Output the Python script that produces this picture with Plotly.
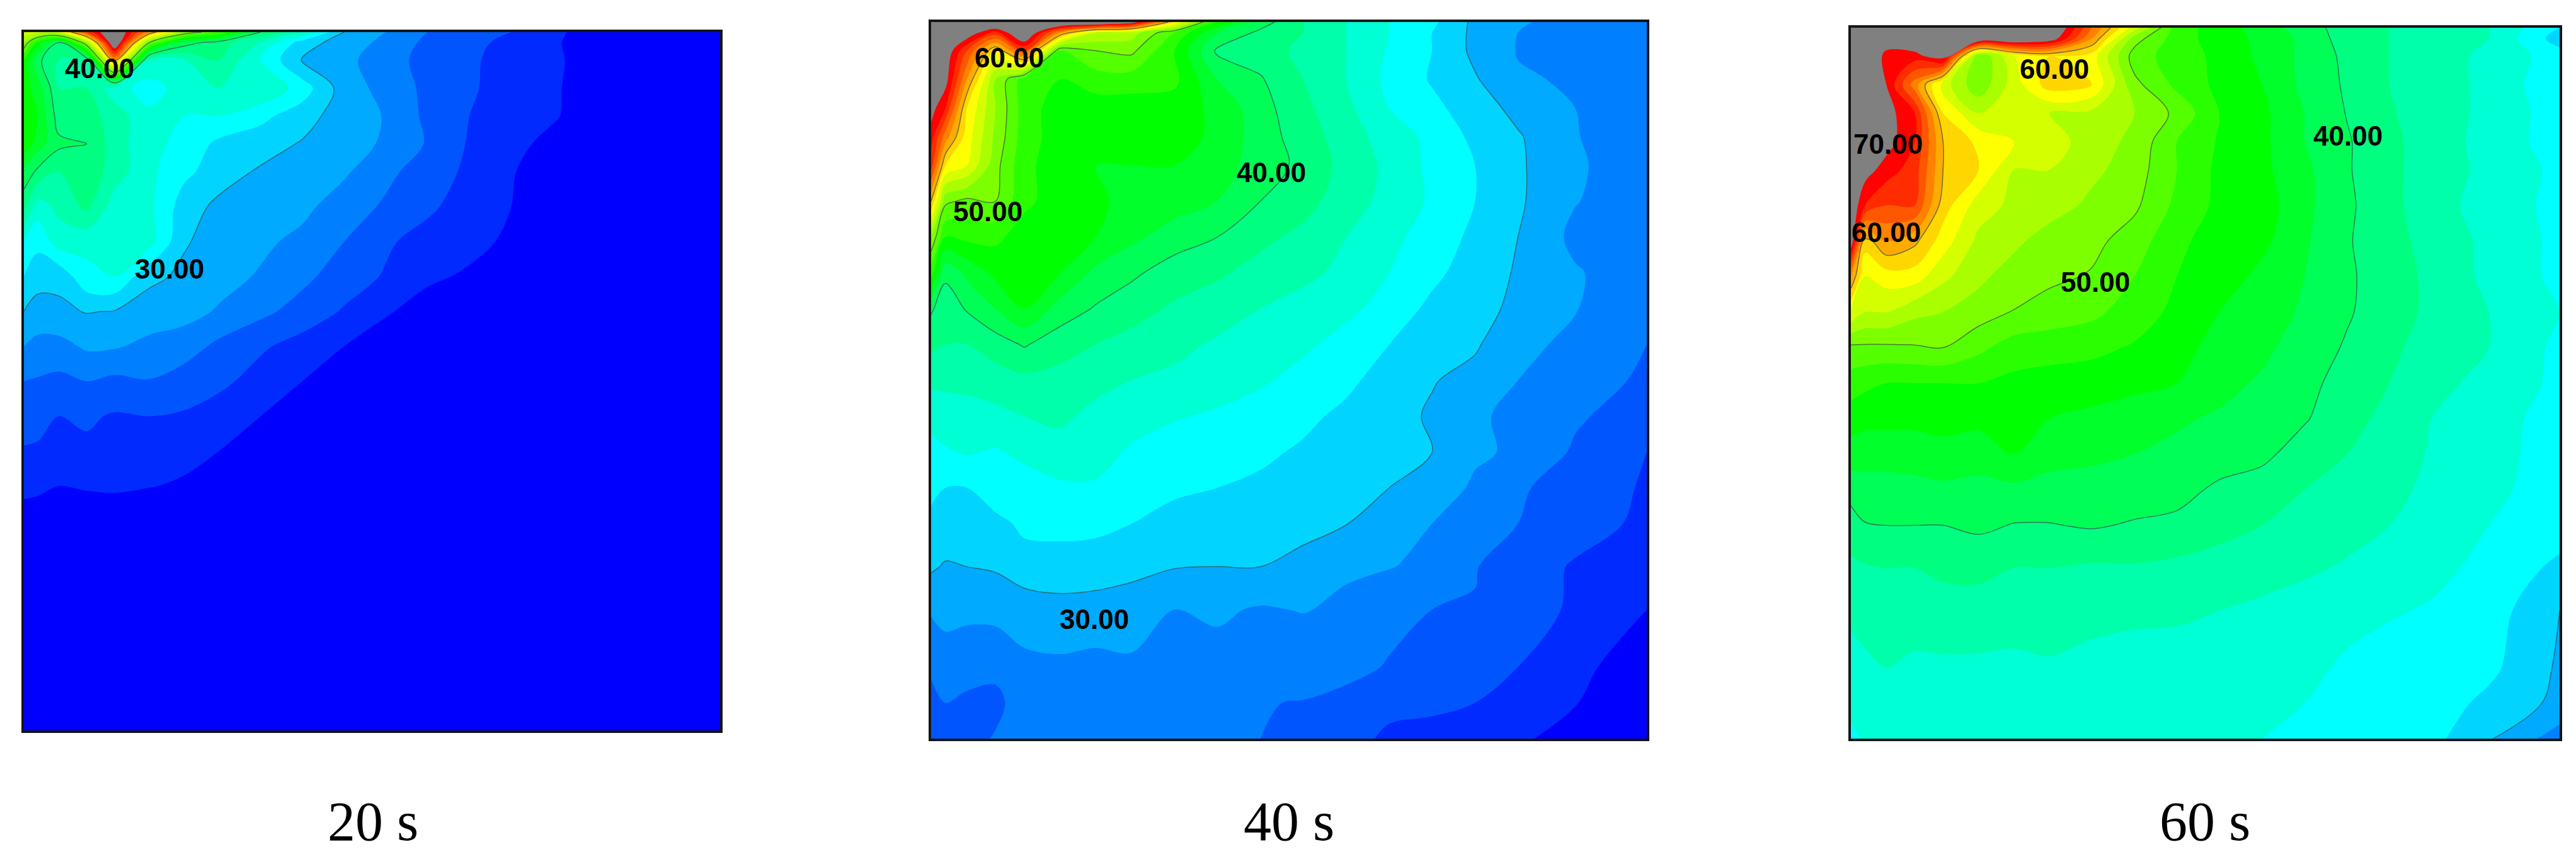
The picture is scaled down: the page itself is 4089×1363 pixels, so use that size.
import plotly.graph_objects as go

# grid nodes, percent of panel width / height (y measured from the top edge)
x_nodes = [0, 2, 5, 9, 13, 18, 23, 28, 34, 40, 46, 52, 58, 64, 70, 76, 82, 90, 100]
y_nodes = [0, 1.5, 4, 8, 12, 16, 20, 25, 30, 35, 40, 45, 50, 55, 60, 65, 70, 76, 82, 90, 95, 100]

# temperature, one row per y node
temp_20s = [
    [55, 55, 55, 66, 74, 62, 52, 48, 40, 36, 30, 28, 26, 25, 24, 22.5, 21, 20, 20],
    [52, 45, 40, 52, 74, 50, 41, 39, 36, 31, 29, 27.5, 25.5, 24.5, 23.5, 22.4, 20.5, 20, 20],
    [46, 40.5, 38, 38, 62, 36, 36, 38, 34, 29.8, 28.5, 27, 25.2, 24.2, 23.5, 22.6, 20.5, 20, 20],
    [45, 43, 38, 38, 35, 33, 35, 36, 36, 33, 29, 27.3, 25.5, 24.3, 23, 22.4, 20.5, 20, 20],
    [46, 44, 39, 39, 37, 34.5, 34, 34, 32.5, 31, 28.8, 27.9, 25.5, 24, 23.2, 22.3, 20.5, 20, 20],
    [45.5, 43, 40.5, 40, 37, 34.5, 33.5, 31.5, 31, 29.8, 28.6, 27.8, 25.8, 23.8, 22.8, 21.2, 20, 20, 20],
    [41.5, 39.5, 38, 39.5, 37, 34.5, 32.5, 31, 29.7, 29, 28.3, 26.5, 25, 23.6, 22.2, 20.5, 20, 20, 20],
    [38.5, 35, 36.5, 38.5, 35, 34.5, 31, 29.5, 29, 28.5, 27, 25.7, 24.4, 23, 22, 20, 20, 20, 20],
    [34, 32.5, 35, 34.5, 34.5, 34.8, 30.2, 29.2, 28.4, 27.5, 26, 24.3, 23.2, 22.8, 21.5, 20, 20, 20, 20],
    [32, 31, 30.5, 33.5, 34, 30.5, 29.6, 28.7, 27.8, 26.5, 25, 23.8, 22.5, 21.6, 20.5, 20, 20, 20, 20],
    [30, 29, 29.6, 30.1, 29.9, 29, 28.7, 27.8, 26.5, 25.2, 23.8, 22.3, 20.8, 20, 20, 20, 20, 20, 20],
    [28, 27.5, 27.3, 28.3, 28.2, 27.5, 27, 25.5, 24.3, 23.2, 22, 20.5, 20, 20, 20, 20, 20, 20, 20],
    [26, 25.8, 25.5, 26, 25.5, 25.9, 25, 24.5, 23.2, 22, 20.5, 20, 20, 20, 20, 20, 20, 20, 20],
    [25, 24.5, 24, 24.3, 23.8, 24, 23.8, 23, 22, 20.5, 20, 20, 20, 20, 20, 20, 20, 20, 20],
    [23.8, 23.8, 23.2, 23.6, 23.7, 23, 22.7, 22, 20.5, 20, 20, 20, 20, 20, 20, 20, 20, 20, 20],
    [22.6, 22.4, 22, 22.3, 22.5, 22.1, 21.7, 20.5, 20, 20, 20, 20, 20, 20, 20, 20, 20, 20, 20],
    [21, 21, 20.5, 20, 20, 20, 20, 20, 20, 20, 20, 20, 20, 20, 20, 20, 20, 20, 20],
    [20, 20, 20, 20, 20, 20, 20, 20, 20, 20, 20, 20, 20, 20, 20, 20, 20, 20, 20],
    [20, 20, 20, 20, 20, 20, 20, 20, 20, 20, 20, 20, 20, 20, 20, 20, 20, 20, 20],
    [20, 20, 20, 20, 20, 20, 20, 20, 20, 20, 20, 20, 20, 20, 20, 20, 20, 20, 20],
    [20, 20, 20, 20, 20, 20, 20, 20, 20, 20, 20, 20, 20, 20, 20, 20, 20, 20, 20],
    [20, 20, 20, 20, 20, 20, 20, 20, 20, 20, 20, 20, 20, 20, 20, 20, 20, 20, 20],
]

temp_40s = [
    [73, 74, 75, 75, 75, 75, 75, 72, 58, 46, 41, 38, 36, 34, 32.5, 29.5, 28.2, 27.4, 26.5],
    [73, 73, 72, 67, 74, 62, 54, 53, 48, 42, 39.5, 38, 36, 34, 32, 29.5, 28, 27.3, 26.5],
    [73, 72, 66, 58, 66, 48, 50, 50.5, 46, 39.6, 39, 37.5, 36, 33.8, 32, 29.5, 27.9, 27.2, 26.5],
    [72, 71, 62, 52, 47, 46, 47, 47, 46.5, 42, 40.2, 38, 36, 33.5, 31.8, 30.2, 28.2, 27.8, 26.6],
    [71, 68, 58, 52, 47, 45, 45, 45, 45, 43.5, 40.8, 38.5, 36.5, 34, 32.5, 31, 29.4, 28, 26.7],
    [69, 63, 57, 51.5, 47, 45, 44.5, 44.5, 45, 43.5, 41, 39, 37, 35, 33.5, 31.5, 30.2, 28.1, 26.7],
    [67, 58, 56, 50.7, 46.5, 45, 44, 44, 44, 43, 41, 39.5, 37.3, 35.5, 33.5, 32, 30.3, 28.3, 26.7],
    [60, 50.5, 49.5, 50, 46.5, 45, 44.3, 43.5, 43, 42, 40, 38.7, 37, 35.3, 33.7, 32, 30.3, 28.1, 26.7],
    [52, 46, 46.5, 46.5, 45, 44.5, 44, 42.5, 41, 40, 38.5, 37.5, 36, 34.5, 33.2, 31.5, 30, 27.5, 26.7],
    [47, 40.5, 42.5, 44.5, 45, 44, 41.5, 40.4, 39, 38.3, 37.3, 36.5, 35.5, 34, 32.5, 31, 29.8, 28.2, 26.7],
    [40.3, 38.8, 40.2, 42, 44, 41.2, 39.8, 38.8, 37.7, 37, 36, 35.2, 34.5, 33.2, 31.5, 30.6, 29.6, 28.1, 26.6],
    [38.5, 38, 38, 39, 40.2, 38.8, 38, 37.3, 36.6, 35.7, 35, 34.4, 33.2, 32, 30.8, 30.2, 28.8, 27.3, 26],
    [36.5, 36.5, 36.7, 37, 37.5, 37.3, 36.8, 36, 35.5, 35, 34.3, 33.3, 32.5, 31, 30.1, 29.5, 28, 26.8, 25.7],
    [34.5, 35, 35, 35.5, 36, 36.5, 35.3, 34.6, 34.2, 33.7, 33, 32.5, 31.5, 30.6, 29.8, 28.5, 27.2, 26.3, 24.9],
    [33.5, 33.8, 34.2, 33.8, 34.5, 35, 34.6, 33.8, 33, 32.7, 32.4, 31.7, 31, 30.3, 30, 28.2, 27.8, 25.7, 24],
    [32.5, 32, 32, 33.5, 33, 33.7, 33.8, 33, 32.3, 32, 31.6, 31, 30.4, 30, 28.7, 27.8, 26.3, 25, 23.8],
    [31.5, 31.3, 31, 31.3, 32.5, 32.7, 32.5, 32, 31.4, 31, 30.8, 30.2, 30.05, 28.8, 28, 27.4, 26, 24.8, 23.6],
    [30.3, 29.8, 30, 30.2, 31, 31, 31, 30.8, 30.1, 30, 30, 29.8, 28.5, 28.1, 27.5, 26.1, 25, 23.8, 23],
    [28.2, 28.5, 28.6, 28.7, 29, 29.4, 29.2, 28.6, 28, 28.3, 27.8, 28.1, 27.3, 26.4, 26, 25.9, 24.9, 23.7, 22],
    [26.5, 27.2, 26.4, 26.3, 27.5, 27.6, 27.4, 27.8, 27.3, 27.3, 27.5, 27.2, 26.4, 25.9, 24.8, 24.5, 24, 22.7, 20.5],
    [25, 26, 25.8, 25.7, 26.6, 26.9, 27, 27.3, 27, 26.2, 26.1, 25.9, 25.6, 24.7, 24.6, 24, 23.2, 22.1, 20.3],
    [24.5, 25, 25.6, 26.1, 26.3, 26.5, 27.1, 27.2, 26.5, 26.2, 26, 25.5, 25, 23.5, 23, 23, 22.4, 21, 20],
]

temp_60s = [
    [74, 74, 74, 74, 74, 74, 74, 74, 64, 55, 47, 45, 43, 41, 39, 38, 37, 36, 32],
    [74, 74, 72, 73, 74, 74, 74, 72, 62, 51, 47, 45, 43.5, 41.5, 39, 38, 37, 36, 31],
    [74, 74, 69, 69, 72, 50, 56, 58, 57, 49, 47, 45.5, 43.5, 41.5, 39.5, 38, 37, 35.5, 33],
    [74, 74, 70, 63, 55, 50.5, 55, 59, 58, 50.6, 47.5, 45.5, 44, 41.5, 39.7, 38, 37, 35.5, 32.5],
    [74, 74, 71, 68, 58, 54, 55, 54, 53.5, 52, 49.5, 46, 44.5, 42, 39.9, 38.2, 37, 35.5, 33],
    [74, 73, 71, 68, 60, 57.5, 56, 55, 53, 51.5, 48, 45.8, 44.5, 42, 40.2, 38.5, 37, 35.3, 33],
    [73, 71, 69, 67, 60, 58, 54, 54, 52.5, 51, 48, 45.5, 44.5, 42.5, 40.2, 38.5, 37, 35.5, 33.5],
    [72, 68, 66, 66, 59, 55, 53.5, 53, 51.5, 50.4, 47.5, 45.5, 45, 42.5, 40.4, 38.5, 37, 35, 33.5],
    [72, 59, 62, 60.5, 57, 53.5, 52.5, 51, 50.6, 49, 46.5, 45, 44.5, 42.3, 40.2, 38.7, 37.3, 35.5, 33.5],
    [62, 56, 57, 57, 54.5, 52.5, 51, 50.5, 49.8, 48, 46, 45, 43.5, 42, 40.3, 39, 37.5, 35.5, 33.5],
    [56, 54, 54, 52.5, 52, 51, 49.9, 49, 48.5, 47, 45.5, 44, 43, 41.7, 40.2, 39, 37.5, 36, 34],
    [49.5, 49.6, 49.6, 49.8, 50, 48.5, 47, 47, 46.5, 45.8, 44.5, 43.5, 42.5, 41, 39.8, 38.5, 37, 36, 33.5],
    [47, 46.5, 46, 46, 46, 46, 45.5, 45, 45, 44.5, 44, 42.7, 41.7, 40.6, 39.2, 38, 36.5, 35.5, 33.5],
    [45, 44.5, 44.5, 44.5, 44.5, 44.5, 44.8, 44, 43.5, 43, 42.3, 41.7, 41, 40.2, 38.6, 37.5, 36, 35, 33],
    [43, 43, 43, 43, 43.5, 43, 44, 42.7, 42.5, 42, 41.5, 41, 40.5, 39, 38, 37, 35.8, 34.8, 33],
    [40.8, 41, 41, 41.3, 41.5, 41.3, 41.5, 41.3, 41, 41, 40.7, 39.6, 39, 38, 37.2, 36.6, 35.5, 34.5, 33],
    [39, 39.9, 40, 40, 40, 40.4, 39.9, 39.9, 40.2, 39.8, 39.5, 38.8, 38, 37.3, 36.6, 36, 35, 34, 33],
    [37.6, 37.8, 38, 38, 38.5, 38.5, 38, 38, 37.7, 37.8, 37.5, 37, 36.8, 36.3, 35.8, 35.2, 34.5, 33.5, 31.5],
    [36.2, 36.4, 36.7, 36.5, 37, 37.2, 37, 37.2, 36.5, 36.3, 36.3, 36, 35.6, 35.2, 34.6, 34.2, 33.8, 33, 30],
    [35.6, 35.8, 36, 35.8, 35.7, 35.6, 35.5, 35.7, 35.5, 35.4, 35.2, 35, 34.8, 34.5, 33.7, 33.2, 33.2, 32.5, 29.7],
    [34.8, 35.2, 35.4, 35.3, 35.1, 35, 35, 35.1, 34.9, 34.8, 34.6, 34.5, 34.4, 34, 33.1, 32.8, 33, 31.5, 29.5],
    [33.4, 34.3, 34.8, 34.8, 34.6, 34.7, 34.6, 34.7, 34.6, 34.3, 34.2, 34.1, 34, 33.4, 32.6, 32.4, 32.6, 30.2, 27],
]

captions = ['20 s', '40 s', '60 s']

# contour labels per panel: text, x %, y %
labels_20s = [('40.00', 10.9, 5.2), ('30.00', 20.9, 33.9)]
labels_40s = [('60.00', 10.9, 5.0), ('50.00', 7.9, 26.4), ('40.00', 47.5, 21.0), ('30.00', 22.8, 83.3)]
labels_60s = [('60.00', 28.7, 5.8), ('70.00', 5.2, 16.4), ('60.00', 5.0, 28.8), ('50.00', 34.5, 35.8), ('40.00', 70.1, 15.2)]

# the page body has an 8px margin, so the figure is inset and pixel positions are shifted by it
PAGE_MARGIN = 8
W, H = 4089 - 2 * PAGE_MARGIN, 1363 - 2 * PAGE_MARGIN
# panel frames in page pixels: left, right, top, bottom
FRAMES = [(38, 1143, 51, 1159), (1478, 2614, 35, 1172), (2938, 4063, 44, 1172)]
CAPTION_X = [592, 2046, 3500]
CAPTION_Y = 1303

ZMIN, ZMAX = 20, 72


def stop(t):
    return (t - ZMIN) / (ZMAX - ZMIN)


def px(v):
    return (v - PAGE_MARGIN) / W


def py(v):
    return 1 - (v - PAGE_MARGIN) / H


COLORSCALE = [
    [stop(20), '#0000ff'],
    [stop(32.5), '#00ffff'],
    [stop(45), '#00ff00'],
    [stop(57.5), '#ffff00'],
    [stop(70), '#ff0000'],
    [stop(70.01), '#808080'],
    [1, '#808080'],
]

fig = go.Figure()
annotations = []
panels = [(temp_20s, labels_20s), (temp_40s, labels_40s), (temp_60s, labels_60s)]

for i, (z, labels) in enumerate(panels):
    n = i + 1
    left, right, top, bottom = FRAMES[i]
    # filled bands
    fig.add_trace(go.Contour(
        x=x_nodes, y=y_nodes, z=z, xaxis=f'x{n}', yaxis=f'y{n}',
        autocontour=False, contours=dict(start=22, end=70, size=2, coloring='fill', showlines=False),
        colorscale=COLORSCALE, zmin=ZMIN, zmax=ZMAX, showscale=False,
        line=dict(width=0, smoothing=1), hoverinfo='skip',
    ))
    # thin isolines every 10 degrees
    fig.add_trace(go.Contour(
        x=x_nodes, y=y_nodes, z=z, xaxis=f'x{n}', yaxis=f'y{n}',
        autocontour=False, contours=dict(start=30, end=60, size=10, coloring='none'),
        showscale=False, line=dict(color='rgba(60,80,80,0.75)', width=1.5, smoothing=1), hoverinfo='skip',
    ))
    axis = dict(showticklabels=False, ticks='', showgrid=False, zeroline=False, mirror=True,
                showline=True, linecolor='#151515', linewidth=4)
    fig.layout[f'xaxis{n}'] = go.layout.XAxis(domain=[px(left), px(right)], range=[0, 100], anchor=f'y{n}', **axis)
    fig.layout[f'yaxis{n}'] = go.layout.YAxis(domain=[py(bottom), py(top)], range=[100, 0], anchor=f'x{n}', **axis)
    for text, lx, ly in labels:
        annotations.append(dict(text=f'<b>{text}</b>', x=lx, y=ly, xref=f'x{n}', yref=f'y{n}', showarrow=False,
                                font=dict(family='Liberation Sans', size=44, color='black')))
    annotations.append(dict(text=captions[i], x=px(CAPTION_X[i]), y=py(CAPTION_Y), xref='paper', yref='paper',
                            xanchor='center', yanchor='middle', showarrow=False,
                            font=dict(family='Liberation Serif', size=88, color='black')))

fig.update_layout(width=W, height=H, margin=dict(l=0, r=0, t=0, b=0), paper_bgcolor='white',
                  plot_bgcolor='white', showlegend=False, annotations=annotations)
fig.write_html("out.html")
